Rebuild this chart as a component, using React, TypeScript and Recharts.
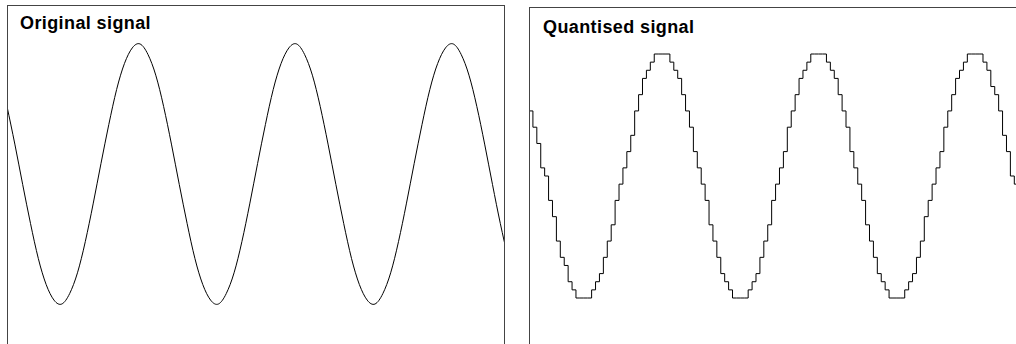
import { LineChart, Line, XAxis, YAxis } from "recharts";

// original signal, read every 2nd sample (amplitude -1..1)
const ORIGINAL_SIGNAL = [
  0.52, 0.23, -0.08, -0.38, -0.65, -0.85, -0.97, -1.0, -0.92, -0.76,
  -0.52, -0.23, 0.08, 0.38, 0.65, 0.85, 0.97, 1.0, 0.92, 0.76,
  0.52, 0.23, -0.08, -0.38, -0.65, -0.85, -0.97, -1.0, -0.92, -0.76,
  -0.52, -0.23, 0.08, 0.38, 0.65, 0.85, 0.97, 1.0, 0.92, 0.76,
  0.52, 0.23, -0.08, -0.38, -0.65, -0.85, -0.97, -1.0, -0.92, -0.76,
  -0.52, -0.23, 0.08, 0.38, 0.65, 0.85, 0.97, 1.0, 0.92, 0.76,
  0.52, 0.23, -0.08, -0.38, -0.65,
];

// quantised levels (-15..15), one per sample
const QUANTISED_LEVELS = [
  8, 6, 4, 1, 0, -3, -5, -8, -10, -11, -13, -14,
  -15, -15, -15, -15,
  -14, -13, -12, -10, -8, -6, -3, -1, 1, 3, 5, 8, 10, 12, 13, 14,
  15, 15, 15, 15,
  14, 13, 12, 10, 8, 6, 3, 1, -1, -3, -6, -8, -10, -12, -13, -14,
  -15, -15, -15, -15,
  -14, -13, -12, -10, -8, -6, -3, -1, 1, 3, 6, 8, 10, 12, 13, 14,
  15, 15, 15, 15,
  14, 13, 12, 10, 8, 6, 3, 1, -1, -3, -6, -8, -10, -12, -13, -14,
  -15, -15, -15, -15,
  -14, -13, -12, -10, -8, -5, -3, -1, 1, 3, 6, 8, 10, 12, 13, 14,
  15, 15, 15, 15,
  14, 13, 11, 10, 8, 5, 3, 0, -1, -1,
];

const originalData = ORIGINAL_SIGNAL.map((v, k) => ({ t: k * 2, v }));
const quantisedData = QUANTISED_LEVELS.map((q, t) => ({ t, q }));

const titleStyle: React.CSSProperties = {
  position: "absolute",
  fontFamily: "'Liberation Sans', Arial, sans-serif",
  fontWeight: "bold",
  fontSize: 18,
  lineHeight: "18px",
  letterSpacing: "0.4px",
  color: "#000",
  whiteSpace: "nowrap",
};

export default function App() {
  return (
    <div style={{ position: "fixed", left: 0, top: 0, width: 1016, height: 344, overflow: "hidden", background: "#fff" }}>
      <div style={{ position: "absolute", left: 7, top: 0 }}>
        <LineChart width={498} height={344} data={originalData} margin={{ top: 44, bottom: 40, left: 0, right: 0 }}>
          <XAxis dataKey="t" type="number" domain={[0, 127.2]} hide allowDataOverflow />
          <YAxis type="number" domain={[-1, 1]} hide />
          <Line type="natural" dataKey="v" stroke="#000" strokeWidth={1} dot={false} activeDot={false} isAnimationActive={false} />
        </LineChart>
      </div>
      <div style={{ position: "absolute", left: 529, top: 0 }}>
        <LineChart width={490} height={344} data={quantisedData} margin={{ top: 54, bottom: 46, left: 0, right: 0 }}>
          <XAxis dataKey="t" type="number" domain={[0, 125.2]} hide allowDataOverflow />
          <YAxis type="number" domain={[-15, 15]} hide />
          <Line type="stepAfter" dataKey="q" stroke="#000" strokeWidth={1} dot={false} activeDot={false} isAnimationActive={false} />
        </LineChart>
      </div>
      {/* panel frames, open at the bottom */}
      <div style={{ position: "absolute", left: 7, top: 5, width: 498, height: 360, boxSizing: "border-box", border: "1px solid #444", borderBottom: "none", pointerEvents: "none" }} />
      <div style={{ position: "absolute", left: 529, top: 7, width: 500, height: 360, boxSizing: "border-box", border: "1px solid #444", borderBottom: "none", pointerEvents: "none" }} />
      <div style={{ ...titleStyle, left: 20, top: 14 }}>Original signal</div>
      <div style={{ ...titleStyle, left: 543, top: 18 }}>Quantised signal</div>
    </div>
  );
}
